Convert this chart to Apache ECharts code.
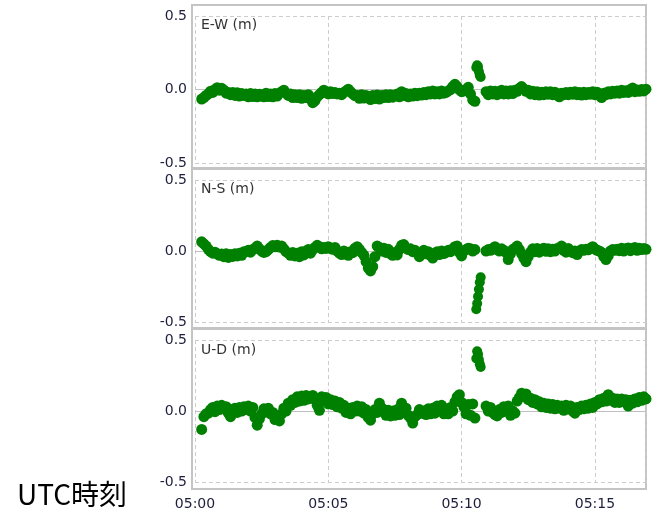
<!DOCTYPE html>
<html>
<head>
<meta charset="utf-8">
<script src="https://cdn.jsdelivr.net/npm/echarts@6/dist/echarts.min.js"></script>
<style>
  html, body { margin: 0; padding: 0; background: #fff; }
  #chart { width: 660px; height: 512px; }
</style>
</head>
<body>
<div id="chart"></div>
<script>
// Epoch sampling: seconds after 05:00:00, one solution every 5 s
const T0 = 15;
const DT = 5;
const X_MAX = 1015;
const timeLabels = ['05:00', '05:05', '05:10', '05:15'];
const panelNames = ['E-W (m)', 'N-S (m)', 'U-D (m)'];

// Displacement (m) per epoch; null = no solution
const ew = [
  -0.065, -0.055, -0.04, -0.03, -0.012, -0.02, 0.0, 0.012, -0.005, 0.008,
  -0.005, -0.025, -0.02, -0.035, -0.02, -0.04, -0.022, -0.045, -0.028, -0.04,
  -0.03, -0.05, -0.028, -0.048, -0.03, -0.05, -0.032, -0.045, -0.05, -0.025,
  -0.048, -0.03, -0.05, -0.028, -0.045, -0.025, -0.015, -0.005, -0.025, -0.04,
  -0.03, -0.055, -0.035, -0.055, -0.035, -0.06, -0.04, -0.055, -0.035, -0.065,
  -0.09, -0.075, -0.05, -0.035, -0.02, -0.005, -0.02, -0.03, -0.015, -0.028,
  -0.02, -0.03, -0.025, -0.035, -0.02, -0.01, 0.002, -0.015, -0.03, -0.042,
  -0.04, -0.06, -0.035, -0.058, -0.04, -0.055, -0.068, -0.04, -0.062, -0.038,
  -0.065, -0.04, -0.055, -0.035, -0.055, -0.035, -0.052, -0.04, -0.03, -0.05,
  -0.015, -0.04, -0.028, -0.05, -0.03, -0.045, -0.025, -0.042, -0.025, -0.038,
  -0.02, -0.035, -0.015, -0.03, -0.01, -0.03, -0.015, -0.03, -0.01, -0.025,
  -0.02, -0.01, 0.0, 0.02, 0.035, 0.02, 0.0, -0.015, -0.01, 0.0,
  0.015, -0.03, -0.07, -0.08,
  null, null, null, null,
  -0.015, -0.035, -0.01, -0.03, -0.012, -0.035, -0.015, -0.005, -0.03,
  -0.01, -0.03, -0.008, -0.028, -0.005, -0.012, 0.008, 0.02, 0.005, -0.012,
  -0.005, -0.03, -0.012, -0.035, -0.015, -0.038, -0.018, -0.035, -0.015, -0.032,
  -0.015, -0.035, -0.018, -0.038, -0.05, -0.025, -0.035, -0.02, -0.035, -0.018,
  -0.032, -0.015, -0.035, -0.02, -0.038, -0.018, -0.035, -0.02, -0.032, -0.015,
  -0.035, -0.018, -0.04, -0.055, -0.025, -0.035, -0.015, -0.03, -0.012, -0.025,
  -0.01, -0.025, -0.005, -0.02, -0.008, -0.02, 0.0, 0.01, -0.015, -0.003,
  -0.012, 0.0, -0.01, 0.002
];

const ns = [
  0.065, 0.05, 0.035, 0.012, -0.005, -0.015, -0.008, -0.02, -0.03, -0.022,
  -0.04, -0.02, -0.045, -0.025, -0.038, -0.02, -0.035, -0.015, -0.03, -0.005,
  -0.005, 0.005, -0.008, 0.01, 0.02, 0.035, 0.015, 0.0, -0.01, -0.005,
  0.01, 0.025, 0.038, 0.03, 0.04, 0.028, 0.035, 0.015, -0.005, -0.015,
  -0.03, -0.01, -0.035, -0.015, -0.04, -0.005, -0.028, 0.0, 0.01, -0.015,
  0.01, 0.025, 0.04, 0.03, 0.015, 0.025, 0.018, 0.03, 0.02, 0.012,
  0.025, 0.0, -0.015, -0.025, 0.0, -0.02, -0.03, -0.005, -0.012, 0.02,
  0.03, 0.012, -0.01, -0.03, -0.075, -0.12, -0.14, -0.11, -0.04, 0.035,
  0.025, 0.0, 0.02, -0.01, 0.012, -0.02, -0.03, -0.01, -0.028, 0.012,
  0.04, 0.045, 0.02, 0.01, 0.015, -0.005, 0.005, -0.015, -0.04, -0.02,
  0.005, -0.02, -0.005, -0.03, -0.05, -0.015, -0.005, -0.025, 0.0, -0.018,
  -0.01, 0.005, -0.005, 0.015, 0.03, 0.035, -0.01, -0.035, 0.0, 0.01,
  0.02, 0.015, 0.0, 0.01,
  null, null, null, null,
  0.0, 0.01, 0.005, 0.018, 0.03, 0.01, 0.0, 0.015, 0.005, -0.01,
  -0.06, -0.02, 0.01, 0.02, 0.035, 0.01, -0.02, -0.05, -0.075, -0.04,
  -0.008, 0.015, -0.005, 0.018, -0.008, 0.012, 0.02, -0.002, 0.015, -0.005,
  0.012, 0.0, 0.018, 0.02, 0.035, 0.005, -0.008, 0.018, 0.0, -0.012,
  0.0, -0.025, 0.0, 0.01, 0.005, 0.012, 0.008, 0.02, 0.03, 0.015,
  0.005, 0.0, -0.01, -0.04, -0.06, -0.035, 0.0, 0.01, 0.005, 0.012,
  0.002, 0.02, 0.0, 0.015, 0.022, 0.002, 0.018, 0.025, 0.005, 0.02,
  0.01, 0.018, 0.012
];

const ud = [
  -0.13, -0.04, -0.02, -0.015, 0.01, 0.025, -0.005, 0.035, 0.01, 0.04,
  0.015, 0.03, -0.015, -0.04, -0.005, 0.02, -0.01, 0.025, 0.0, 0.03,
  0.01, 0.035, 0.0, 0.025, -0.045, -0.1, -0.055, -0.02, 0.015, -0.005,
  0.02, -0.02, -0.01, -0.06, -0.045, -0.07, -0.02, 0.02, 0.0, 0.055,
  0.04, 0.08, 0.06, 0.1, 0.07, 0.105, 0.075, 0.11, 0.085, 0.1,
  0.11, 0.08, 0.04, 0.005, 0.1, 0.07, 0.095, 0.05, 0.08, 0.045,
  0.07, 0.03, 0.06, 0.02, 0.04, -0.01, 0.02, -0.02, 0.025, 0.0,
  0.035, 0.0, 0.03, -0.015, 0.01, -0.045, -0.065, -0.02, 0.01, -0.01,
  0.055, 0.02, 0.01, -0.03, 0.005, -0.035, 0.0, -0.03, 0.01, -0.025,
  0.055, 0.0, 0.02, -0.03, -0.05, -0.085, -0.04, -0.025, 0.01, -0.015,
  0.0, -0.025, 0.015, -0.02, 0.02, -0.015, 0.035, 0.015, 0.04, -0.02,
  0.01, -0.02, 0.025, 0.0, 0.065, 0.1, 0.115, 0.06, 0.03, -0.02,
  0.045, -0.03, 0.05, -0.05,
  null, null, null, null,
  0.035, 0.0, 0.025, -0.01, -0.025, -0.035, 0.01, -0.01, 0.03, 0.005,
  0.035, -0.03, 0.0, -0.015, 0.07, 0.095, 0.125, 0.115, 0.12, 0.08,
  0.09, 0.06, 0.08, 0.05, 0.065, 0.03, 0.055, 0.025, 0.05, 0.02,
  0.045, 0.015, 0.04, 0.02, 0.035, 0.005, 0.04, 0.015, 0.035, 0.0,
  -0.015, 0.025, 0.01, 0.035, 0.015, 0.04, 0.02, 0.05, 0.025, 0.06,
  0.05, 0.08, 0.065, 0.09, 0.07, 0.115, 0.075, 0.09, 0.06, 0.085,
  0.06, 0.085, 0.065, 0.08, 0.035, 0.075, 0.055, 0.085, 0.065, 0.095,
  0.075, 0.1, 0.085
];

// Short burst of outlying solutions inside the gap after 05:10
const tJump = [633, 635, 637, 639, 641, 643];
const ewJump = [0.15, 0.165, 0.155, 0.12, 0.095, 0.085];
const nsJump = [-0.41, -0.37, -0.32, -0.27, -0.22, -0.185];
const udJump = [0.37, 0.42, 0.4, 0.36, 0.33, 0.31];

const GREEN = '#008000';
const FONT = 'DejaVu Sans';
const DOT = 11;

// Panel layout: plot area spans the ±0.5 m grid lines, frame is slightly larger
const panels = [
  { top: 16,  height: 147, frame: [192, 5, 454, 163] },
  { top: 180, height: 142, frame: [192, 169, 454, 159] },
  { top: 340, height: 142, frame: [192, 329, 454, 160] }
];
const titleTops = [18, 182, 343];

function epochs(vals) {
  const out = [];
  vals.forEach((v, i) => { if (v !== null) out.push([T0 + i * DT, v]); });
  return out;
}
function burst(vals) {
  return tJump.map((t, i) => [t, vals[i]]);
}

const series3 = [ew, ns, ud];
const jumps3 = [ewJump, nsJump, udJump];

const option = {
  animation: false,
  backgroundColor: '#ffffff',
  title: panelNames.map((name, i) => ({
    text: name,
    left: 201,
    top: titleTops[i],
    padding: 0,
    textStyle: { fontFamily: FONT, fontSize: 14, fontWeight: 'normal', color: '#333333' }
  })).concat([{
    text: 'UTC時刻',
    left: 17,
    top: 480,
    padding: 0,
    textStyle: { fontFamily: 'Noto Sans CJK JP', fontSize: 28, fontWeight: 'normal', color: '#000000' }
  }]),
  graphic: panels.map(p => ({
    type: 'rect',
    z: 0,
    shape: { x: p.frame[0], y: p.frame[1], width: p.frame[2], height: p.frame[3] },
    style: { fill: 'none', stroke: '#c4c4c4', lineWidth: 2 }
  })),
  grid: panels.map(p => ({
    left: 195, width: 451, top: p.top, height: p.height,
    containLabel: false, outerBoundsMode: 'none'
  })),
  xAxis: panels.map((p, i) => ({
    type: 'value',
    gridIndex: i,
    min: 0,
    max: X_MAX,
    interval: 300,
    axisLine: { show: false },
    axisTick: { show: false },
    axisLabel: {
      show: i === 2,
      showMaxLabel: false,
      margin: 15,
      fontFamily: FONT,
      fontSize: 14,
      color: '#1e1e3c',
      formatter: v => (v % 300 === 0 ? timeLabels[v / 300] || '' : '')
    },
    splitLine: { show: true, lineStyle: { color: '#cccccc', type: [4, 3], width: 1 } }
  })),
  yAxis: panels.map((p, i) => ({
    type: 'value',
    gridIndex: i,
    min: -0.5,
    max: 0.5,
    interval: 0.5,
    axisLine: { show: false },
    axisTick: { show: false },
    axisLabel: {
      margin: 8,
      fontFamily: FONT,
      fontSize: 14,
      color: '#1e1e3c',
      formatter: v => v.toFixed(1)
    },
    splitLine: { show: true, lineStyle: { color: '#cccccc', type: [4, 3], width: 1 } }
  })),
  series: []
};

series3.forEach((vals, i) => {
  // zero reference line beneath the points
  option.series.push({
    type: 'scatter',
    xAxisIndex: i, yAxisIndex: i,
    data: [],
    z: 1,
    silent: true,
    markLine: {
      silent: true,
      symbol: 'none',
      label: { show: false },
      lineStyle: { color: '#c0c0c0', type: 'solid', width: 1 },
      data: [{ yAxis: 0 }]
    }
  });
  option.series.push({
    type: 'scatter',
    xAxisIndex: i, yAxisIndex: i,
    data: epochs(vals),
    symbol: 'circle',
    symbolSize: DOT,
    clip: false,
    z: 5,
    itemStyle: { color: GREEN, opacity: 1 }
  });
  option.series.push({
    type: 'scatter',
    xAxisIndex: i, yAxisIndex: i,
    data: burst(jumps3[i]),
    symbol: 'circle',
    symbolSize: 10,
    clip: false,
    z: 5,
    itemStyle: { color: GREEN, opacity: 1 }
  });
});

const chart = echarts.init(document.getElementById('chart'), null, { renderer: 'canvas' });
chart.setOption(option);
</script>
</body>
</html>
